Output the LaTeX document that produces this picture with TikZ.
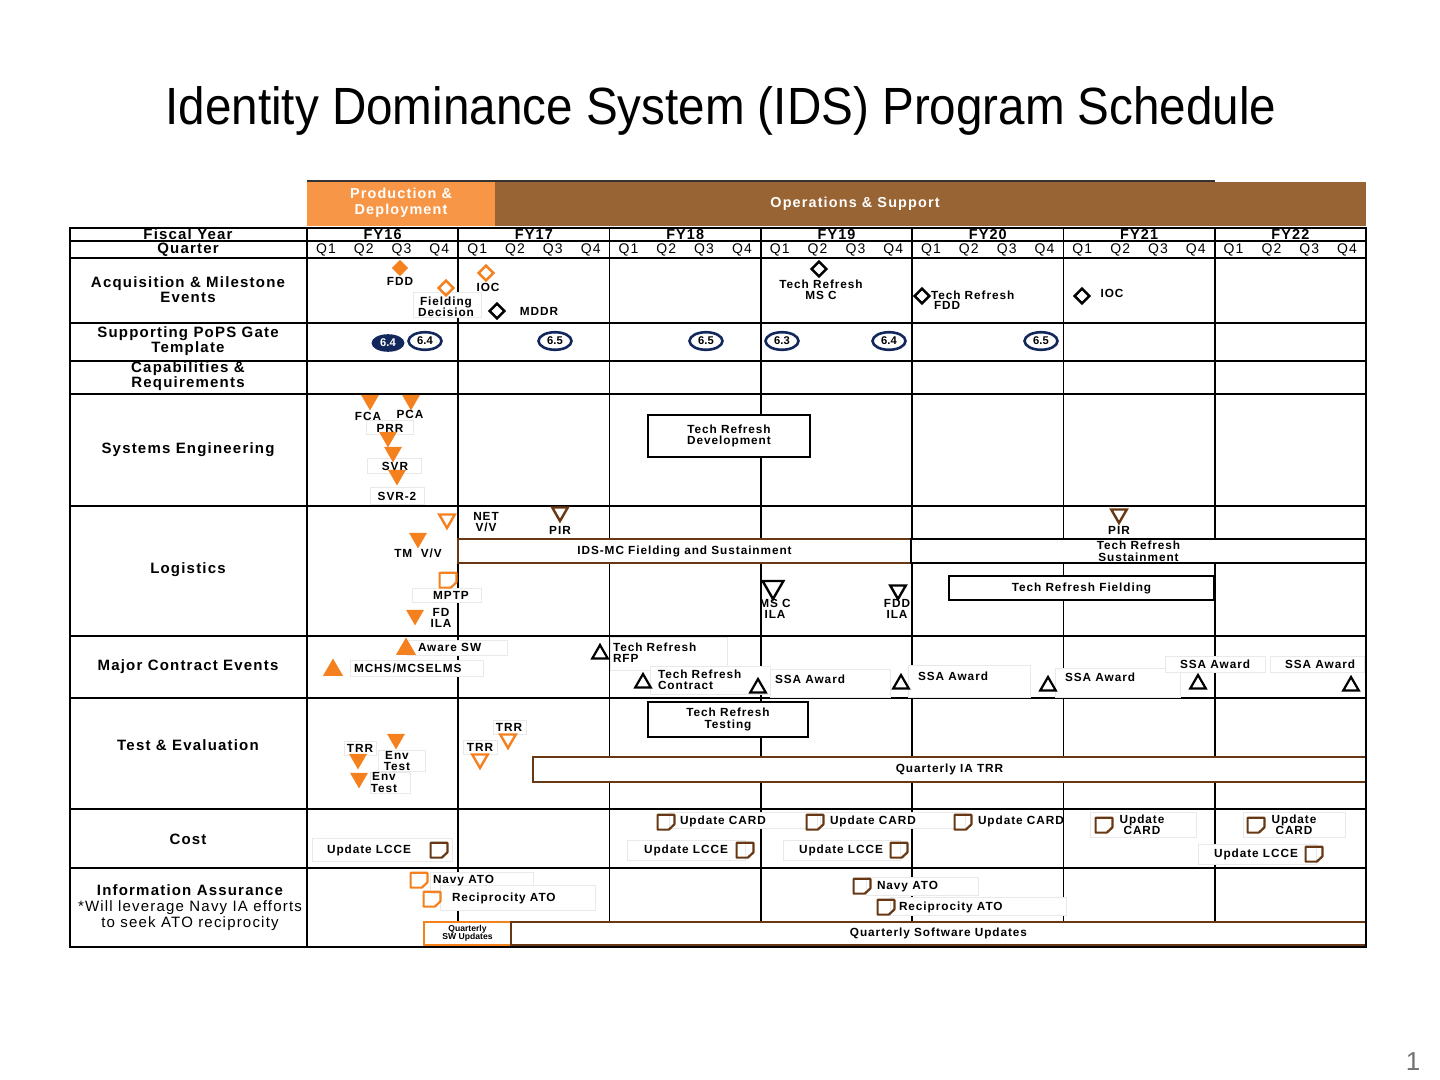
\documentclass[tikz,border=0pt]{standalone}
\usepackage{fontspec}
\setmainfont{Liberation Sans}
\newfontfamily\spaced[LetterSpace=8]{Liberation Sans}
\usetikzlibrary{shapes.geometric}
\definecolor{orng}{RGB}{245,128,30}
\definecolor{pdorng}{RGB}{247,150,70}
\definecolor{osbrown}{RGB}{153,100,52}
\definecolor{dbrown}{RGB}{104,56,20}
\definecolor{navy}{RGB}{18,40,92}
\definecolor{faint}{RGB}{233,233,233}
\begin{document}
\begin{tikzpicture}[x=0.5pt,y=-0.5pt,
  every node/.style={inner sep=0pt, outer sep=0pt},
  rowlbl/.style={font=\spaced\bfseries\fontsize{7.5}{7.6}\selectfont, align=center},
  hdr/.style={font=\spaced\bfseries\fontsize{7.2}{7.2}\selectfont},
  qtr/.style={font=\spaced\fontsize{7}{7}\selectfont},
  lbl/.style={font=\spaced\bfseries\fontsize{5.9}{5.6}\selectfont, align=center},
  lbll/.style={lbl, anchor=west, align=left},
  ban/.style={font=\spaced\bfseries\fontsize{7.2}{8}\selectfont, text=white, align=center},
  grid/.style={line width=0.8pt},
  heavy/.style={line width=1.1pt},
  barbox/.style={draw, fill=white, line width=1.2pt, font=\spaced\bfseries\fontsize{5.9}{5.8}\selectfont, align=center},
  fbox/.style={draw=faint, fill=white, line width=0.5pt},
  dmd/.style={diamond, aspect=1, minimum size=7.4pt, line width=1.2pt},
  dtri/.style={regular polygon, regular polygon sides=3, shape border rotate=180, minimum size=#1},
  dtri/.default=10.4pt,
  utri/.style={regular polygon, regular polygon sides=3, minimum size=#1},
  utri/.default=9pt,
  gate/.style={ellipse, minimum width=16.5pt, minimum height=8.8pt, line width=1.3pt,
    font=\bfseries\fontsize{5.6}{5.6}\selectfont},
  notemark/.pic={
    \draw[line width=1.1pt, line join=round] (-4.2pt,3.6pt) -- (4.2pt,3.6pt) -- (4.2pt,-1.2pt)
      -- (1.4pt,-3.8pt) -- (-4.2pt,-3.8pt) -- cycle;
  }
]
\useasboundingbox (0,0) rectangle (1440,1080);
\fill[white] (0,0) rectangle (1440,1080);

% Title
\node[font=\fontsize{23.8}{26}\selectfont] (title) at (721,111)
  {\scalebox{1}[1.1]{Identity Dominance System (IDS) Program Schedule}};

% Phase banner
\fill[pdorng] (307,182) rectangle (495,226);
\fill[osbrown] (495,182) rectangle (1366,226);
\draw[black!80, line width=1pt] (307,181) -- (1215,181);
\node[ban] (pd) at (401,203) {Production \&\\Deployment};
\node[ban] (os) at (855,204) {Operations \& Support};

% Grid
\draw[grid] (70,241) -- (1366,241);
\foreach \i in {1,...,6} \draw[grid] ({307+151.2857*\i},228) -- ({307+151.2857*\i},947);
\foreach \y in {258,323,361,394,506,636,698,809,868} \draw[heavy] (70,\y) -- (1366,\y);
\draw[heavy] (307,228) -- (307,947);

% Fiscal years and quarters
\foreach \i in {0,...,6}{
  \pgfmathsetmacro{\xa}{307+151.2857*\i}
  \pgfmathtruncatemacro{\fy}{16+\i}
  \node[hdr] (fy\fy) at ({\xa+75.64},234.5) {FY\fy};
  \foreach \q in {1,...,4}{
    \node[qtr] (q\fy x\q) at ({\xa+37.82*\q-18.91},249.5) {Q\q};
  }
}

% Row titles
\node[rowlbl] (hfy) at (188,234.5) {Fiscal Year};
\node[rowlbl] (hq) at (188,249.5) {Quarter};
\node[rowlbl] (racq) at (188,289.5) {Acquisition \& Milestone\\Events};
\node[rowlbl] (rpops) at (188,341) {Supporting PoPS Gate\\Template};
\node[rowlbl] (rcap) at (188,376.5) {Capabilities \&\\Requirements};
\node[rowlbl] (rse) at (188,450) {Systems Engineering};
\node[rowlbl] (rlog) at (188,570) {Logistics};
\node[rowlbl] (rmce) at (188,667) {Major Contract Events};
\node[rowlbl] (rte) at (188,745) {Test \& Evaluation};
\node[rowlbl] (rcost) at (188,839) {Cost};
\node[rowlbl, font=\spaced\fontsize{7.5}{8}\selectfont] (ria) at (190,908)
  {\bfseries Information Assurance\\*Will leverage Navy IA efforts\\to seek ATO reciprocity};

% Bars
\node[barbox, minimum width=81pt, minimum height=21pt] (trdev) at (729,436) {Tech Refresh\\Development};
\node[barbox, draw=dbrown, minimum width=226.5pt, minimum height=12pt] (idsmc) at (684.5,551) {IDS-MC Fielding and Sustainment};
\node[barbox, minimum width=227.5pt, minimum height=12pt] (trsus) at (1138.5,551) {Tech Refresh\\Sustainment};
\node[barbox, minimum width=132.5pt, minimum height=12pt] (trfld) at (1081.5,588) {Tech Refresh Fielding};
\node[barbox, minimum width=80pt, minimum height=17.5pt] (trtest) at (728,719.5) {Tech Refresh\\Testing};
\node[barbox, draw=dbrown, minimum width=416.5pt, minimum height=12.5pt] (iatrr) at (949.5,769.5) {Quarterly IA TRR};
\node[barbox, draw=orng, minimum width=43.5pt, minimum height=11.5pt,
  font=\bfseries\fontsize{4.3}{4.2}\selectfont] (qsw) at (467.5,933.5) {Quarterly\\SW Updates};
\node[barbox, draw=dbrown, minimum width=427.5pt, minimum height=11.5pt] (qsoft) at (938.5,933.5) {Quarterly Software Updates};

% Light label frames
\path[fbox] (413,293) rectangle (481,318);
\path[fbox] (366,421) rectangle (413,435);
\path[fbox] (367,459) rectangle (421,473);
\path[fbox] (370,487) rectangle (424,504);
\path[fbox] (412,588) rectangle (481,602);
\path[fbox] (407,640) rectangle (507,655);
\path[fbox] (350,660) rectangle (483,676);
\path[fbox] (610,637) rectangle (727,670);
\path[fbox] (650,666) rectangle (770,694);
\path[fbox] (770,669) rectangle (890,697);
\path[fbox] (908,665) rectangle (1030,697);
\path[fbox] (1055,668) rectangle (1180,697);
\path[fbox] (1165,656) rectangle (1265,672);
\path[fbox] (1270,656) rectangle (1364,672);
\path[fbox] (344,741) rectangle (376,755);
\path[fbox] (378,750) rectangle (425,771);
\path[fbox] (370,772) rectangle (410,793);
\path[fbox] (463,740) rectangle (497,754);
\path[fbox] (493,720) rectangle (526,734);
\path[fbox] (312,838) rectangle (452,861);
\path[fbox] (669,812) rectangle (817,828);
\path[fbox] (820,812) rectangle (965,828);
\path[fbox] (627,840) rectangle (745,860);
\path[fbox] (783,840) rectangle (900,860);
\path[fbox] (1090,812) rectangle (1196,837);
\path[fbox] (1243,812) rectangle (1345,837);
\path[fbox] (1198,844) rectangle (1316,864);
\path[fbox] (430,872) rectangle (533,893);
\path[fbox] (440,885) rectangle (595,910);
\path[fbox] (866,877) rectangle (978,895);
\path[fbox] (890,897) rectangle (1066,915);

% Acquisition & milestone events
\node[dmd, fill=orng, minimum size=8.2pt] (fdd) at (400,268) {};
\node[lbl] (fddl) at (400,281) {FDD};
\node[dmd, draw=orng] (ioc) at (486,273) {};
\node[lbl] (iocl) at (488,287) {IOC};
\node[lbl] (fdecl) at (446,306.5) {Fielding\\Decision};
\node[dmd, draw=orng] (fdec) at (446,288) {};
\node[dmd, draw=black] (mddr) at (497,311) {};
\node[lbl] (mddrl) at (539,311) {MDDR};
\node[dmd, draw=black] (trms) at (819,269) {};
\node[lbl] (trmsl) at (821,290) {Tech Refresh\\MS C};
\node[dmd, draw=black] (trfdd) at (922,296) {};
\node[lbl, anchor=west] (trfddl) at (931,295) {Tech Refresh};
\node[lbl, anchor=west] (trfddl2) at (934,305) {FDD};
\node[dmd, draw=black] (ioc2) at (1082,296) {};
\node[lbl] (ioc2l) at (1112,293) {IOC};

% PoPS gates
\node[gate, fill=navy, text=white] (g1) at (388,343) {6.4};
\node[gate, draw=navy] (g2) at (425,341) {6.4};
\node[gate, draw=navy] (g3) at (555,341) {6.5};
\node[gate, draw=navy] (g4) at (706,341) {6.5};
\node[gate, draw=navy] (g5) at (782,341) {6.3};
\node[gate, draw=navy] (g6) at (889,341) {6.4};
\node[gate, draw=navy] (g7) at (1041,341) {6.5};

% Systems engineering
\node[dtri, fill=orng] (fca) at (370,400) {};
\node[lbl] (fcal) at (368,416) {FCA};
\node[dtri, fill=orng] (pca) at (411,400) {};
\node[lbl] (pcal) at (410,414) {PCA};
\node[lbl] (prr) at (390,428) {PRR};
\node[dtri, fill=orng] (t1) at (388,437) {};
\node[dtri, fill=orng] (t2) at (393,452) {};
\node[lbl] (svr) at (395,466) {SVR};
\node[dtri, fill=orng] (t3) at (397,475) {};
\node[lbl] (svr2) at (397,496) {SVR-2};

% Logistics
\node[dtri=9pt, draw=orng, line width=1.2pt] (netvv) at (447,519) {};
\node[lbl] (netvvl) at (486,522) {NET\\V/V};
\node[dtri=9pt, draw=dbrown, line width=1.2pt] (pir1) at (560,512) {};
\node[lbl] (pir1l) at (560,530) {PIR};
\node[dtri, fill=orng] (tmvv) at (418,538) {};
\node[lbl] (tmvvl) at (418,553) {TM\ \ V/V};
\node[dtri=9pt, draw=dbrown, line width=1.2pt] (pir2) at (1119,514) {};
\node[lbl] (pir2l) at (1119,530) {PIR};
\pic[color=orng] (mptpn) at (448,580) {notemark};
\node[lbl] (mptp) at (451,595) {MPTP};
\node[dtri, fill=orng] (fdila) at (415,615) {};
\node[lbl] (fdilal) at (441,618) {FD\\ILA};
\node[dtri=12pt, draw=black, line width=1.2pt] (msila) at (773,587) {};
\node[lbl] (msilal) at (775,609) {MS C\\ILA};
\node[dtri=9pt, draw=black, line width=1.2pt] (fddila) at (898,590) {};
\node[lbl] (fddilal) at (897,609) {FDD\\ILA};

% Major contract events
\node[utri=11.5pt, fill=orng] (awsw) at (406,649) {};
\node[lbll] (awswl) at (418,647) {Aware SW};
\node[utri=11.5pt, fill=orng] (mchs) at (333,670) {};
\node[lbll] (mchsl) at (354,668) {MCHS/MCSELMS};
\node[utri, draw=black, line width=1.1pt] (rfp) at (600,654) {};
\node[lbll] (rfpl) at (613,652.5) {Tech Refresh\\RFP};
\node[utri, draw=black, line width=1.1pt] (ctr) at (643,683) {};
\node[lbll] (ctrl) at (658,679.5) {Tech Refresh\\Contract};
\node[utri, draw=black, line width=1.1pt] (ssa1) at (758,688) {};
\node[lbll] (ssa1l) at (775,679) {SSA Award};
\node[utri, draw=black, line width=1.1pt] (ssa2) at (901,684) {};
\node[lbll] (ssa2l) at (918,676) {SSA Award};
\node[utri, draw=black, line width=1.1pt] (ssa3) at (1048,686) {};
\node[lbll] (ssa3l) at (1065,677) {SSA Award};
\node[utri, draw=black, line width=1.1pt] (ssa4) at (1198,684) {};
\node[lbl] (ssa4l) at (1215,664) {SSA Award};
\node[utri, draw=black, line width=1.1pt] (ssa5) at (1351,686) {};
\node[lbl] (ssa5l) at (1320,664) {SSA Award};

% Test & evaluation
\node[lbl] (trr1) at (360,748) {TRR};
\node[dtri, fill=orng] (env1) at (396,739) {};
\node[lbl] (env1l) at (397,761) {Env\\Test};
\node[dtri, fill=orng] (trrt) at (358,759) {};
\node[dtri, fill=orng] (env2) at (359,778) {};
\node[lbl] (env2l) at (384,782.5) {Env\\Test};
\node[dtri=9pt, draw=orng, line width=1.2pt] (trr2) at (480,759) {};
\node[lbl] (trr2l) at (480,747) {TRR};
\node[dtri=9pt, draw=orng, line width=1.2pt] (trr3) at (508,739) {};
\node[lbl] (trr3l) at (509,727) {TRR};

% Cost
\node[lbl] (lcce1) at (369,850) {Update LCCE};
\pic[color=dbrown] (lcce1n) at (439,850) {notemark};
\pic[color=dbrown] (card1n) at (666,822) {notemark};
\node[lbll] (card1) at (680,821) {Update CARD};
\pic[color=dbrown] (card2n) at (815,822) {notemark};
\node[lbll] (card2) at (830,821) {Update CARD};
\pic[color=dbrown] (card3n) at (963,822) {notemark};
\node[lbll] (card3) at (978,821) {Update CARD};
\pic[color=dbrown] (card4n) at (1104,825) {notemark};
\node[lbl] (card4) at (1142,825) {Update\\CARD};
\pic[color=dbrown] (card5n) at (1256,825) {notemark};
\node[lbl] (card5) at (1294,825) {Update\\CARD};
\node[lbl] (lcce2) at (686,850) {Update LCCE};
\pic[color=dbrown] (lcce2n) at (745,850) {notemark};
\node[lbl] (lcce3) at (841,850) {Update LCCE};
\pic[color=dbrown] (lcce3n) at (899,850) {notemark};
\node[lbl] (lcce4) at (1256,854) {Update LCCE};
\pic[color=dbrown] (lcce4n) at (1314,854) {notemark};

% Information assurance
\pic[color=orng] (nato1n) at (419,880) {notemark};
\node[lbll] (nato1) at (433,881) {Navy ATO};
\pic[color=orng] (rato1n) at (432,899) {notemark};
\node[lbll] (rato1) at (452,898) {Reciprocity ATO};
\pic[color=dbrown] (nato2n) at (862,886) {notemark};
\node[lbll] (nato2) at (877,887) {Navy ATO};
\pic[color=dbrown] (rato2n) at (886,907) {notemark};
\node[lbll] (rato2) at (899,907) {Reciprocity ATO};

% Table frame
\draw[heavy] (70,228) rectangle (1366,947);

% Page number
\node[font=\fontsize{13}{13}\selectfont, text=black!55] (pg) at (1413,1062) {1};
\end{tikzpicture}
\end{document}
